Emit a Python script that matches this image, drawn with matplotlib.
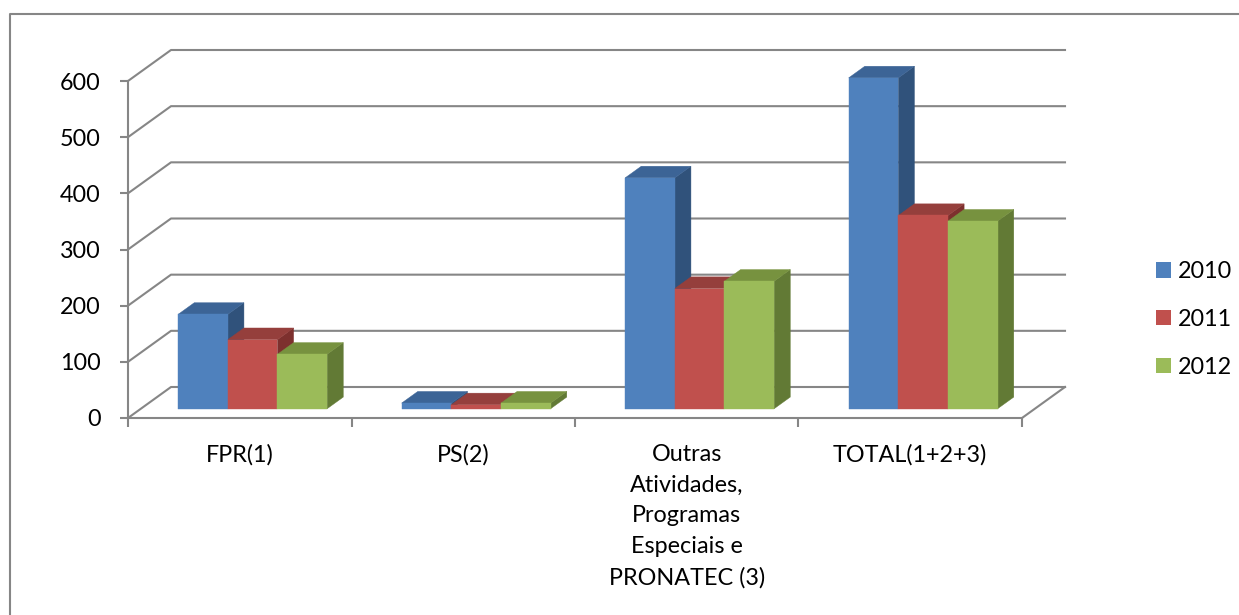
import matplotlib
matplotlib.use("Agg")
import matplotlib.pyplot as plt
from matplotlib.patches import Polygon, Patch
from matplotlib.lines import Line2D

plt.rcParams["font.family"] = ["Lato", "DejaVu Sans"]

# ---- data -------------------------------------------------------------
categories = [
    "FPR(1)",
    "PS(2)",
    "Outras\nAtividades,\nProgramas\nEspeciais e\nPRONATEC (3)",
    "TOTAL(1+2+3)",
]
series_names = ["2010", "2011", "2012"]
values_2010 = [168, 10, 411, 589]
values_2011 = [123, 7, 214, 344]
values_2012 = [97, 10, 227, 334]
y_ticks = [0, 100, 200, 300, 400, 500, 600]

series_values = [values_2010, values_2011, values_2012]
front_colors = ["#4F81BD", "#C0504D", "#9BBB59"]
top_colors = ["#3C6496", "#953F3C", "#77923F"]
side_colors = ["#30527B", "#7D302E", "#627A35"]

GRID = "#868686"
FONT_SIZE = 16.8

# ---- figure / axes ----------------------------------------------------
W, H, DPI = 1239, 615, 100
fig = plt.figure(figsize=(W / DPI, H / DPI), dpi=DPI)
ax = fig.add_axes([128 / W, (H - 418) / H, 894 / W, 337 / H])
ax.set_xlim(0, len(categories))
ax.set_ylim(0, 600)
ax.patch.set_visible(False)

for side in ("top", "right"):
    ax.spines[side].set_visible(False)
for side in ("left", "bottom"):
    ax.spines[side].set_color(GRID)
    ax.spines[side].set_linewidth(1.5)

ax.set_yticks(y_ticks)
ax.tick_params(axis="y", direction="out", length=6, width=1.5, color=GRID,
               labelsize=FONT_SIZE, pad=13.5)
ax.set_xticks(range(len(categories) + 1))
ax.set_xticklabels([])
ax.set_xticks([i + 0.5 for i in range(len(categories))], minor=True)
ax.set_xticklabels(categories, minor=True, fontsize=FONT_SIZE, linespacing=1.56)
ax.tick_params(axis="x", which="major", direction="out", length=6.5,
               width=1.5, color=GRID)
ax.tick_params(axis="x", which="minor", length=0, pad=19)

# oblique depth: pixels moved right / up for a full unit of depth
DEPTH_DX, DEPTH_DY = 43.0, 31.0


def proj(x, v, d):
    px, py = ax.transData.transform((x, v))
    return ax.transData.inverted().transform((px + d * DEPTH_DX, py + d * DEPTH_DY))


# back wall, side wall and floor outlines
for v in y_ticks:
    p0, p1, p2 = proj(0, v, 0), proj(0, v, 1), proj(len(categories), v, 1)
    ax.add_line(Line2D([p0[0], p1[0], p2[0]], [p0[1], p1[1], p2[1]],
                       color=GRID, lw=1.5, clip_on=False, zorder=1))
q0, q1 = proj(len(categories), 0, 0), proj(len(categories), 0, 1)
ax.add_line(Line2D([q0[0], q1[0]], [q0[1], q1[1]], color=GRID, lw=1.5,
                   clip_on=False, zorder=1))

# 3-D columns
n_series = len(series_values)
bar_w = 1.0 / (n_series + 1.5)
d0, d1 = 0.30, 0.675
z = 3
for ci in range(len(categories)):
    left0 = ci + 0.5 - n_series * bar_w / 2
    for si in range(n_series):
        v = series_values[si][ci]
        xl, xr = left0 + si * bar_w, left0 + (si + 1) * bar_w
        side = [proj(xr, 0, d0), proj(xr, v, d0), proj(xr, v, d1), proj(xr, 0, d1)]
        top = [proj(xl, v, d0), proj(xr, v, d0), proj(xr, v, d1), proj(xl, v, d1)]
        front = [proj(xl, 0, d0), proj(xr, 0, d0), proj(xr, v, d0), proj(xl, v, d0)]
        for poly, col in ((side, side_colors[si]), (top, top_colors[si]),
                          (front, front_colors[si])):
            ax.add_patch(Polygon(poly, closed=True, facecolor=col,
                                 edgecolor=col, lw=0.3, clip_on=False, zorder=z))
            z += 0.01

# legend
handles = [Patch(facecolor=c, edgecolor="none") for c in front_colors]
fig.legend(handles, series_names, loc="upper left",
           bbox_to_anchor=(1140 / W, 1 - 245 / H), frameon=False,
           fontsize=FONT_SIZE, handlelength=0.64, handleheight=0.64,
           handletextpad=0.3, labelspacing=1.14, borderpad=0.2)

# chart-area border (left and top edges visible)
fig.add_artist(Line2D([9.5 / W, 9.5 / W, 1.0], [0.0, 1 - 13.5 / H, 1 - 13.5 / H],
                      transform=fig.transFigure, color=GRID, lw=1.5))

fig.savefig("out.png", dpi=DPI)
